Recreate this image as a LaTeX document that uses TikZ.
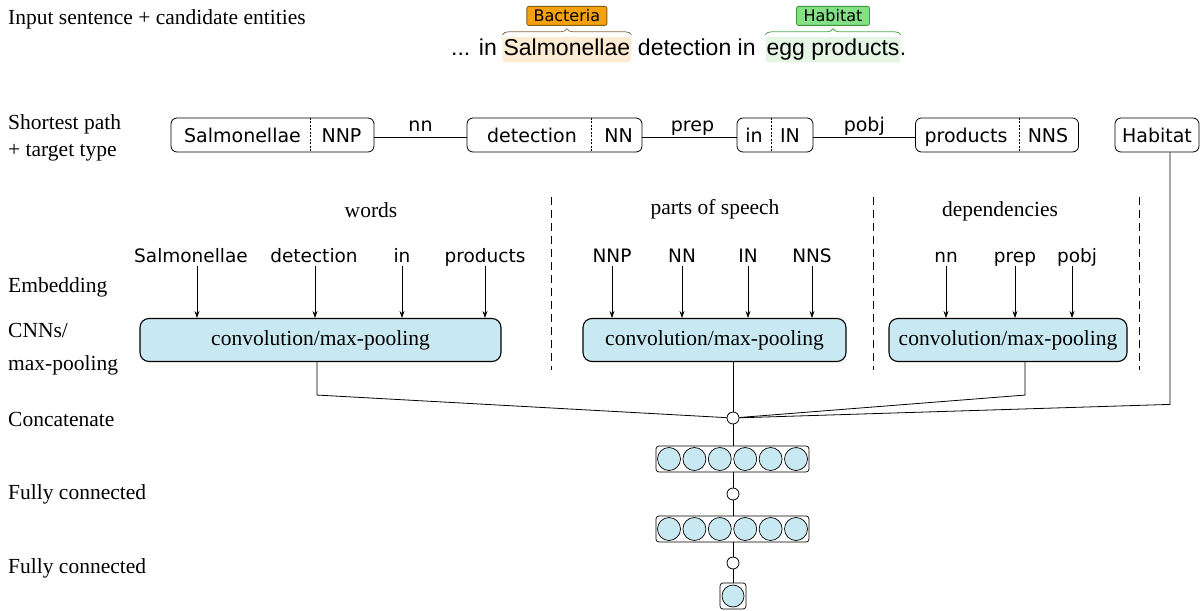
\documentclass[tikz,border=0pt]{standalone}
\usepackage{fontspec}
\setmainfont{Liberation Serif}
\newfontfamily\dvs{DejaVu Sans}
\newfontfamily\ars{Liberation Sans}
\usetikzlibrary{arrows.meta,decorations.pathreplacing,calc}
\definecolor{convblue}{HTML}{C9E9F2}
\definecolor{hlorange}{HTML}{FDEBD2}
\definecolor{hlgreen}{HTML}{E5F6E5}
\definecolor{bactfill}{HTML}{F5A10F}
\definecolor{bactdraw}{HTML}{8A5C10}
\definecolor{habfill}{HTML}{85DF85}
\definecolor{habdraw}{HTML}{3C9A3C}
\definecolor{bracebrown}{HTML}{8B6B45}
\definecolor{bracegreen}{HTML}{4DAA4D}
\begin{document}
\begin{tikzpicture}[x=1pt,y=-1pt,
  serif/.style={font=\fontsize{21.5}{24}\selectfont, inner sep=0pt},
  rowlabel/.style={serif, anchor=base west},
  sans/.style={font=\dvs\fontsize{19}{22}\selectfont, inner sep=0pt},
  wordlbl/.style={font=\dvs\fontsize{18.5}{21}\selectfont, inner sep=0pt, anchor=base, text height=14pt, text depth=4pt},
  edgelbl/.style={sans, above, yshift=1pt, text height=14pt, text depth=4pt},
  sent/.style={font=\ars\fontsize{23}{26}\selectfont, anchor=base west, inner sep=0pt, text height=17.5pt, text depth=5pt},
  hl/.style={rounded corners=3pt, inner xsep=1pt, inner ysep=1.5pt},
  tag/.style={font=\dvs\fontsize{16}{18}\selectfont, rounded corners=2pt, inner sep=0pt, minimum height=19pt, line width=0.8pt},
  brc/.style={decorate, decoration={brace, amplitude=6pt}, line width=0.8pt},
  pathbox/.style={draw, rounded corners=6pt, line width=0.8pt, minimum height=34pt, inner sep=0pt},
  divider/.style={dash pattern=on 2pt off 1.5pt, line width=0.6pt},
  convbox/.style={draw, fill=convblue, rounded corners=9pt, line width=1.1pt, minimum height=43pt, serif},
  unit/.style={circle, draw, fill=convblue, minimum size=23pt, inner sep=0pt, line width=0.7pt},
  layerbox/.style={draw, rounded corners=3pt, line width=0.7pt, inner sep=0pt},
  joint/.style={circle, draw, fill=white, minimum size=12pt, inner sep=0pt, line width=0.8pt},
  arr/.style={-{Stealth[length=7pt,width=5pt]}, line width=0.7pt},
  conn/.style={line width=0.8pt},
  sepline/.style={dash pattern=on 8pt off 5pt, line width=0.7pt},
]
\useasboundingbox (0,0) rectangle (1201,610);

% ---------- row labels ----------
\node[rowlabel] (l0) at (8,25) {Input sentence + candidate entities};
\node[rowlabel] (l1) at (8,129) {Shortest path};
\node[rowlabel] (l1b) at (8,156) {+ target type};
\node[rowlabel] (l2) at (8,292) {Embedding};
\node[rowlabel] (l3) at (8,337) {CNNs/};
\node[rowlabel] (l3b) at (8,370) {max-pooling};
\node[rowlabel] (l4) at (8,426) {Concatenate};
\node[rowlabel] (l5) at (8,499) {Fully connected};
\node[rowlabel] (l6) at (8,573) {Fully connected};

% ---------- sentence ----------
\node[sent] (s0) at (451,56) {... in};
\node[sent, hl, fill=hlorange] (s1) at ([xshift=5.4pt]s0.base east) {Salmonellae};
\node[sent] (s2) at ([xshift=6.4pt]s1.base east) {detection in};
\node[sent, hl, fill=hlgreen] (s3) at ([xshift=9.5pt]s2.base east) {egg products};
\node[sent] (s4) at ([xshift=-1pt]s3.base east) {.};
\draw[brc, bracebrown] ([yshift=2pt]s1.north west) -- ([yshift=2pt]s1.north east);
\draw[brc, bracegreen] ([yshift=2pt]s3.north west) -- ([yshift=2pt]s3.north east);
\node[tag, draw=bactdraw, fill=bactfill, minimum width=80pt, anchor=south] (bact) at ([yshift=11pt]s1.north) {Bacteria};
\node[tag, draw=habdraw, fill=habfill, minimum width=73pt, anchor=south] (habt) at ([yshift=11pt]s3.north) {Habitat};

% ---------- shortest path ----------
\node[pathbox, minimum width=203pt] (p1) at (272.5,135) {};
\node[sans, anchor=base] (p1a) at (242.5,142) {Salmonellae};
\node[sans, anchor=base] (p1b) at (341.5,142) {NNP};
\draw[divider] ($(p1.north west)+(140,0)$) -- ($(p1.south west)+(140,0)$);

\node[pathbox, minimum width=175pt] (p2) at (554.5,135) {};
\node[sans, anchor=base] (p2a) at (532,142) {detection};
\node[sans, anchor=base] (p2b) at (618.5,142) {NN};
\draw[divider] ($(p2.north west)+(125,0)$) -- ($(p2.south west)+(125,0)$);

\node[pathbox, minimum width=76pt] (p3) at (775,135) {};
\node[sans, anchor=base] (p3a) at (754,142) {in};
\node[sans, anchor=base] (p3b) at (790,142) {IN};
\draw[divider] ($(p3.north west)+(35,0)$) -- ($(p3.south west)+(35,0)$);

\node[pathbox, minimum width=163pt] (p4) at (997,135) {};
\node[sans, anchor=base] (p4a) at (966,142) {products};
\node[sans, anchor=base] (p4b) at (1048,142) {NNS};
\draw[divider] ($(p4.north west)+(104.5,0)$) -- ($(p4.south west)+(104.5,0)$);

\node[pathbox, minimum width=84pt, sans] (hab) at (1157,135) {Habitat};

\draw[conn] ([yshift=-2pt]p1.east) -- ([yshift=-2pt]p2.west) node[edgelbl, midway] {nn};
\draw[conn] ([yshift=-2pt]p2.east) -- ([yshift=-2pt]p3.west) node[edgelbl, midway, xshift=3pt] {prep};
\draw[conn] ([yshift=-2pt]p3.east) -- ([yshift=-2pt]p4.west) node[edgelbl, midway] {pobj};

% ---------- section headers and separators ----------
\node[serif, anchor=base] (hw) at (371,217) {words};
\node[serif, anchor=base] (hp) at (715,214) {parts of speech};
\node[serif, anchor=base] (hd) at (1000,216) {dependencies};
\draw[sepline] (551,197) -- (551,370);
\draw[sepline] (873,197) -- (873,370);
\draw[sepline] (1139,197) -- (1139,370);

% ---------- conv boxes ----------
\node[convbox, minimum width=361pt] (conv1) at (320.5,340) {convolution/max-pooling};
\node[convbox, minimum width=263pt] (conv2) at (714.5,340) {convolution/max-pooling};
\node[convbox, minimum width=238pt] (conv3) at (1008,340) {convolution/max-pooling};

% ---------- embedding inputs ----------
\node[wordlbl] (w1) at (191,262) {Salmonellae};
\node[wordlbl] (w2) at (314,262) {detection};
\node[wordlbl] (w3) at (402,262) {in};
\node[wordlbl] (w4) at (485,262) {products};
\draw[arr] ([xshift=6pt]w1.south) -- ([xshift=6pt]w1.south |- conv1.north);
\draw[arr] ([xshift=1pt]w2.south) -- ([xshift=1pt]w2.south |- conv1.north);
\draw[arr] (w3.south) -- (w3.south |- conv1.north);
\draw[arr] (w4.south) -- (w4.south |- conv1.north);

\node[wordlbl] (t1) at (612,262) {NNP};
\node[wordlbl] (t2) at (682,262) {NN};
\node[wordlbl] (t3) at (748,262) {IN};
\node[wordlbl] (t4) at (812,262) {NNS};
\draw[arr] (t1.south) -- (t1.south |- conv2.north);
\draw[arr] (t2.south) -- (t2.south |- conv2.north);
\draw[arr] (t3.south) -- (t3.south |- conv2.north);
\draw[arr] (t4.south) -- (t4.south |- conv2.north);

\node[wordlbl] (d1) at (946,262) {nn};
\node[wordlbl] (d2) at (1015,262) {prep};
\node[wordlbl] (d3) at (1077,262) {pobj};
\draw[arr] (d1.south) -- (d1.south |- conv3.north);
\draw[arr] (d2.south) -- (d2.south |- conv3.north);
\draw[arr] ([xshift=-5pt]d3.south) -- ([xshift=-5pt]d3.south |- conv3.north);

% ---------- concatenation ----------
\node[joint] (c0) at (733,418) {};
\draw[conn] (conv2.south -| c0) -- (c0);
\draw[conn] ([xshift=-3.5pt]conv1.south) -- ++(0,33) -- (c0);
\draw[conn] ([xshift=17pt]conv3.south) -- ++(0,33) -- (c0);
\draw[conn] ([xshift=13pt]hab.south) -- ++(0,252) -- (c0);

% ---------- fully connected layers ----------
\node[layerbox, minimum width=153pt, minimum height=26pt] (fc1) at (732.5,459) {};
\foreach \i in {0,...,5} \node[unit] (ua\i) at (669+25.4*\i,459) {};
\node[joint] (c1) at (733,494) {};
\node[layerbox, minimum width=153pt, minimum height=26pt] (fc2) at (732.5,529) {};
\foreach \i in {0,...,5} \node[unit] (ub\i) at (669+25.4*\i,529) {};
\node[joint] (c2) at (733,563) {};
\node[layerbox, minimum width=26pt, minimum height=26pt] (out) at (733,596) {};
\node[unit, minimum size=22pt] (uo) at (out) {};

\draw[conn] (c0) -- (c0 |- fc1.north);
\draw[conn] (fc1.south -| c1) -- (c1);
\draw[conn] (c1) -- (c1 |- fc2.north);
\draw[conn] (fc2.south -| c2) -- (c2);
\draw[conn] (c2) -- (c2 |- out.north);
\end{tikzpicture}
\end{document}
